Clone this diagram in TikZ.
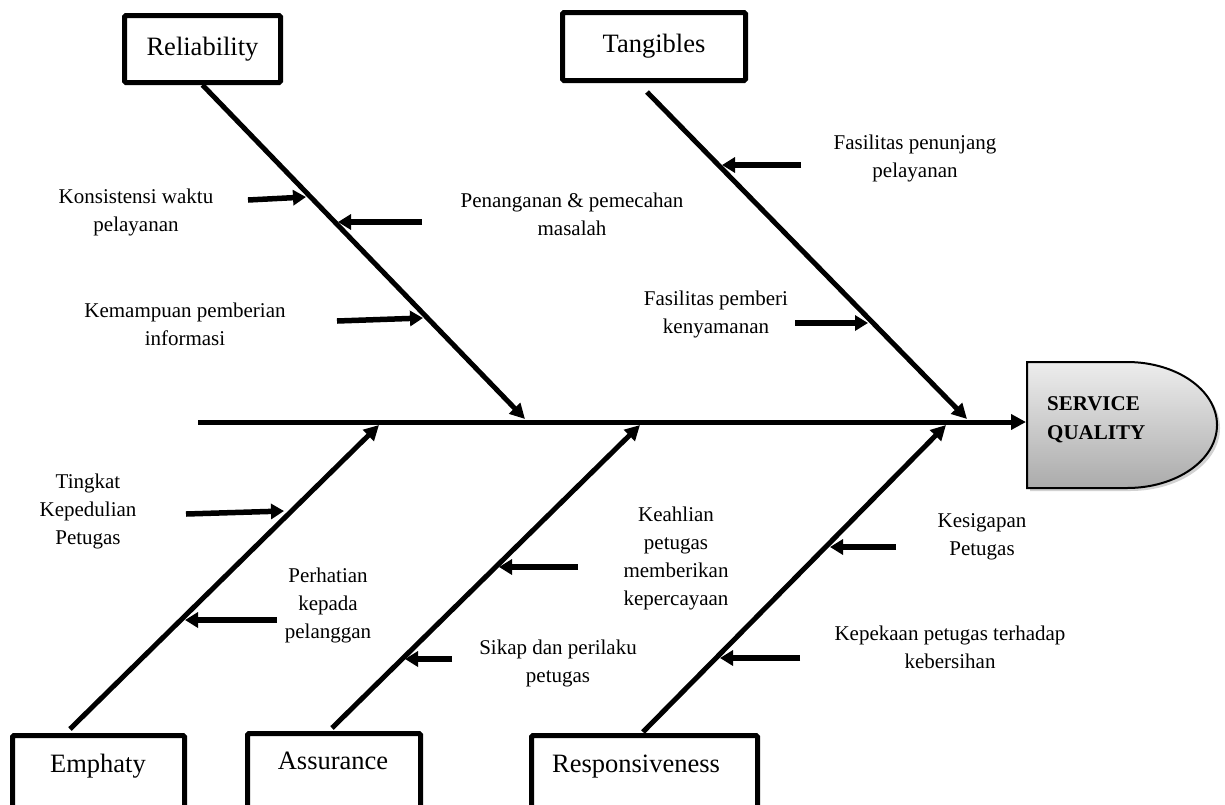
\documentclass[tikz,border=0pt]{standalone}
\usepackage{fontspec}
\setmainfont{Liberation Serif}
\usetikzlibrary{arrows.meta,shadows}
\begin{document}
\begin{tikzpicture}[x=1pt,y=-1pt,
  catbox/.style={draw, line width=5pt, rounded corners=1.5pt, fill=white, inner sep=0pt},
  catfont/.style={font=\fontsize{26.5}{30}\selectfont},
  cattext/.style={catfont, inner sep=0pt, anchor=base},
  lbl/.style={font=\fontsize{21}{28}\selectfont, align=center, inner sep=0pt},
  bone/.style={line width=5pt, -{Triangle[length=15pt,width=15pt]}},
  subarrow/.style={line width=5.5pt, -{Triangle[length=13pt,width=15pt]}},
  headtext/.style={font=\bfseries\fontsize{21}{29}\selectfont, align=left, inner sep=0pt}
]
\useasboundingbox (0,0) rectangle (1225,804);
\clip (0,0) rectangle (1225,804);
\fill[white] (0,0) rectangle (1225,804);

% head
\filldraw[line width=2pt, draw=black, top color=black!7, bottom color=black!33,
  drop shadow={shadow xshift=3pt, shadow yshift=-3pt, opacity=0.35}]
  (1027,362) -- (1127,362) arc[start angle=90, end angle=-90, x radius=90pt, y radius=63pt]
  -- (1027,488) -- cycle;
\node[headtext, anchor=west] (head) at (1047,420) {SERVICE\\QUALITY};
\coordinate (headW) at (1026,422);

% category boxes (top)
\node[catbox, catfont, minimum width=156pt, minimum height=67pt] (rel) at (202.5,49) {Reliability};
\node[catbox, catfont, minimum width=183pt, minimum height=68pt] (tan) at (654,46.5) {Tangibles};

% category boxes (bottom, cut by the page edge)
\node[catbox, minimum width=172pt, minimum height=95pt, anchor=north] (emp) at (98.5,733) {};
\node[catbox, minimum width=173pt, minimum height=95pt, anchor=north] (asu) at (334,731) {};
\node[catbox, minimum width=226pt, minimum height=95pt, anchor=north] (res) at (644.5,733) {};
\node[cattext] (empT) at (98,772) {Emphaty};
\node[cattext] (asuT) at (333,769) {Assurance};
\node[cattext] (resT) at (636,772) {Responsiveness};

% coordinates of bones
\coordinate (spineL) at (198,422);
\coordinate (relTip) at (525,419);
\coordinate (tanS) at (647,92);
\coordinate (tanTip) at (967,419);
\coordinate (empS) at (70,729);
\coordinate (empTip) at (379,425);
\coordinate (asuS) at (332,728);
\coordinate (asuTip) at (640,425);
\coordinate (resS) at (643,732);
\coordinate (resTip) at (946,425);

% spine and bones
\draw[bone] (spineL) -- (headW);
\draw[bone] (rel.south) -- (relTip);
\draw[bone] (tanS) -- (tanTip);
\draw[bone] (empS) -- (empTip);
\draw[bone] (asuS) -- (asuTip);
\draw[bone] (resS) -- (resTip);

% labels
\node[lbl] (l1) at (136,212) {Konsistensi waktu\\pelayanan};
\node[lbl] (l2) at (572,214) {Penanganan \& pemecahan\\masalah};
\node[lbl] (l3) at (185,324) {Kemampuan pemberian\\informasi};
\node[lbl] (l4) at (915,158) {Fasilitas penunjang\\pelayanan};
\node[lbl] (l5) at (716,314) {Fasilitas pemberi\\kenyamanan};
\node[lbl] (l6) at (88,511) {Tingkat\\Kepedulian\\Petugas};
\node[lbl] (l7) at (328,605) {Perhatian\\kepada\\pelanggan};
\node[lbl] (l8) at (676,558) {Keahlian\\petugas\\memberikan\\kepercayaan};
\node[lbl] (l9) at (558,663) {Sikap dan perilaku\\petugas};
\node[lbl] (l10) at (982,537) {Kesigapan\\Petugas};
\node[lbl] (l11) at (950,647) {Kepekaan petugas terhadap\\kebersihan};

% sub-cause arrows
\coordinate (a1s) at (248,200);  \coordinate (a1e) at (306,197);
\coordinate (a2s) at (422,222);  \coordinate (a2e) at (338,222);
\coordinate (a3s) at (337,321);  \coordinate (a3e) at (423,318);
\coordinate (a4s) at (801,165);  \coordinate (a4e) at (722,165);
\coordinate (a5s) at (795,323);  \coordinate (a5e) at (868,323);
\coordinate (a6s) at (186,514);  \coordinate (a6e) at (284,511);
\coordinate (a7s) at (277,620);  \coordinate (a7e) at (185,620);
\coordinate (a8s) at (578,567);  \coordinate (a8e) at (499,567);
\coordinate (a9s) at (452,659);  \coordinate (a9e) at (405,659);
\coordinate (a10s) at (896,547); \coordinate (a10e) at (830,547);
\coordinate (a11s) at (800,658); \coordinate (a11e) at (720,658);
\foreach \i in {1,...,11} {\draw[subarrow] (a\i s) -- (a\i e);}
\end{tikzpicture}
\end{document}
